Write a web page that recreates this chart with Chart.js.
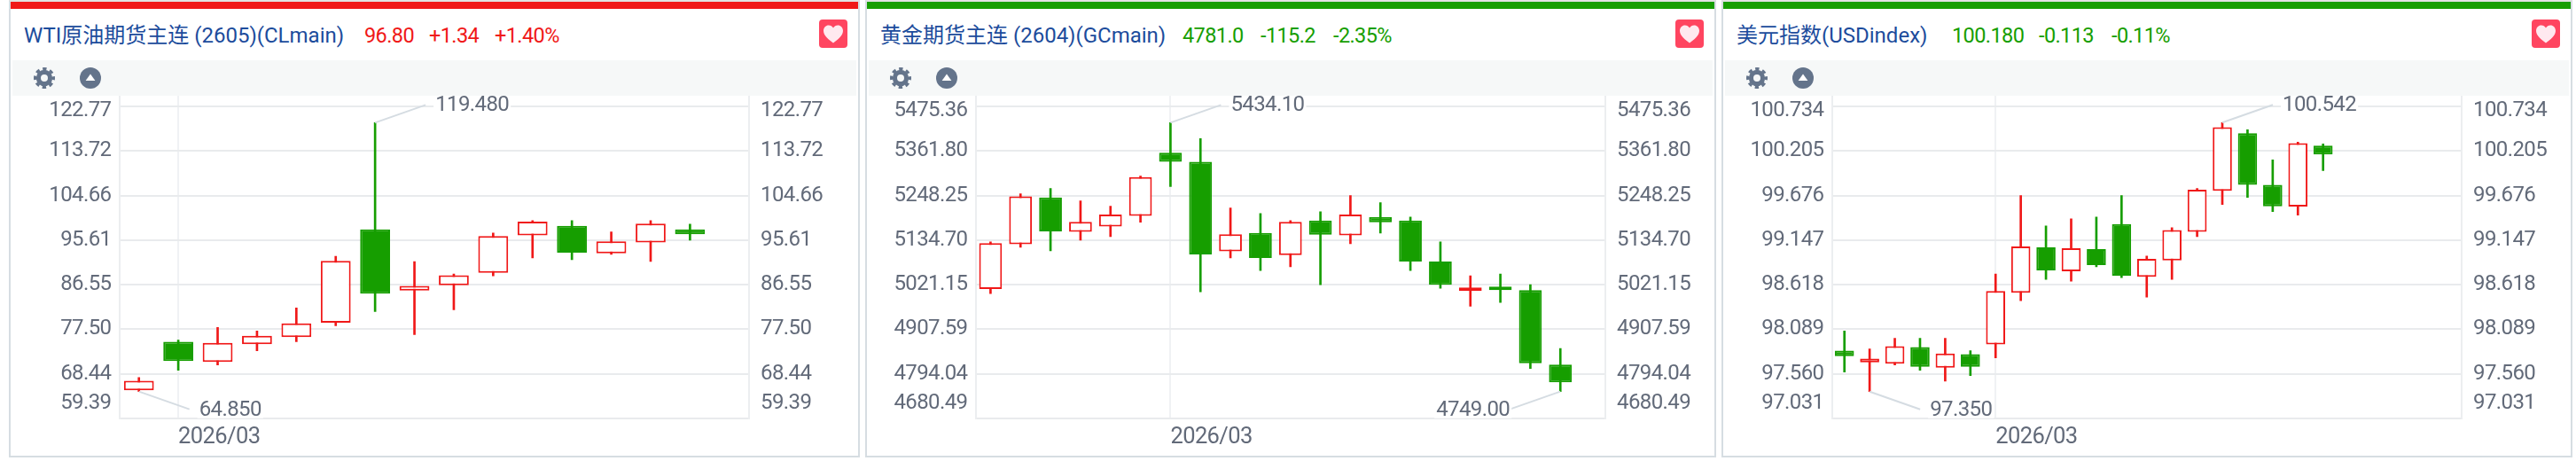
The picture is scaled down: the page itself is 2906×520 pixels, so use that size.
<!DOCTYPE html>
<html>
<head>
<meta charset="utf-8">
<script src="https://cdn.jsdelivr.net/npm/chart.js@4"></script>
<style>
  html, body { margin: 0; background: #fff; }
  body { width: 2906px; height: 520px; position: relative; overflow: hidden; font-family: Roboto, "Noto Sans CJK SC", sans-serif; }
  .panel { position: absolute; top: 0; width: 956px; height: 512px; border: 2px solid #d6dde2; border-top-color: #e2e2e2; background: #fff; }
  .bar { position: absolute; left: 0; right: 0; top: 0; height: 8px; }
  .name, .val { position: absolute; top: 22px; line-height: 32px; white-space: nowrap; }
  .name { font-size: 24px; color: #1c4c9c; }
  .val { font-size: 23.5px; letter-spacing: -0.6px; }
  .heart { position: absolute; left: 912px; top: 20px; width: 32px; height: 32px; }
  .tools { position: absolute; left: 2px; right: 2px; top: 66px; height: 40px; background: #f6f8f8; }
  .tools svg { position: absolute; top: 8px; width: 24px; height: 24px; }
  canvas { position: absolute; left: 0; top: 106px; }
</style>
</head>
<body>
<script>
  const RED = '#f01818';
  const GREEN = '#169e00';
  const TICK_COLOR = '#626a79';
  const LEADER_COLOR = '#d5dce2';

  // WTI crude
  const oilLabels = ['', '2026/03', '', '', '', '', '', '', '', '', '', '', '', '', '', ''];
  const oilOpen  = [65.12, 74.97, 70.86, 74.48, 75.93, 78.83, 97.78, 85.35, 86.43, 88.97, 96.58, 98.50, 92.95, 95.13, 97.78];
  const oilClose = [67.05, 71.04, 74.72, 76.17, 78.71, 91.38, 84.74, 86.31, 88.49, 96.46, 99.35, 93.07, 95.37, 98.98, 96.80];
  const oilHigh  = [67.72, 75.33, 77.86, 77.14, 81.85, 92.35, 119.48, 91.26, 88.73, 97.06, 99.59, 99.59, 97.30, 99.59, 98.86];
  const oilLow   = [64.85, 69.17, 70.25, 73.15, 74.96, 78.22, 81.12, 76.41, 81.48, 88.37, 91.99, 91.63, 92.71, 91.26, 95.61];
  const oilTicks = [59.39, 68.44, 77.50, 86.55, 95.61, 104.66, 113.72, 122.77];

  // Gold
  const goldLabels = ['', '', '', '', '', '', '2026/03', '', '', '', '', '', '', '', '', '', '', '', '', '', ''];
  const goldOpen  = [5010.5, 5124.1, 5243.7, 5155.9, 5169.5, 5196.8, 5357.3, 5334.6, 5106.0, 5152.9, 5096.9, 5184.7, 5146.8, 5193.8, 5184.7, 5080.2, 5005.2, 5016.6, 5007.5, 4817.9];
  const goldClose = [5127.1, 5246.0, 5157.0, 5181.6, 5199.8, 5295.2, 5334.6, 5098.4, 5149.8, 5089.3, 5181.6, 5148.3, 5199.8, 5180.1, 5080.2, 5021.2, 5014.3, 5007.5, 4821.3, 4772.4];
  const goldHigh  = [5130.2, 5252.8, 5266.4, 5234.6, 5221.0, 5298.2, 5434.1, 5393.6, 5216.5, 5202.8, 5184.7, 5207.3, 5248.3, 5230.1, 5193.8, 5130.2, 5043.9, 5048.4, 5021.2, 4858.8];
  const goldLow   = [4998.4, 5116.5, 5107.4, 5134.7, 5143.8, 5180.1, 5271.0, 5003.0, 5089.3, 5057.5, 5066.6, 5021.2, 5125.6, 5152.9, 5057.5, 5012.0, 4966.6, 4975.7, 4807.7, 4749.0];
  const goldTicks = [4680.49, 4794.04, 4907.59, 5021.15, 5134.70, 5248.25, 5361.80, 5475.36];

  // US dollar index
  const usdLabels = ['', '', '', '', '', '', '2026/03', '', '', '', '', '', '', '', '', '', '', '', '', '', '', '', '', '', ''];
  const usdOpen  = [97.835, 97.697, 97.680, 97.877, 97.634, 97.793, 97.909, 98.523, 99.062, 98.777, 99.041, 99.337, 98.713, 98.907, 99.246, 99.732, 100.417, 99.803, 99.545, 100.268];
  const usdClose = [97.771, 97.740, 97.888, 97.644, 97.803, 97.644, 98.544, 99.073, 98.787, 99.052, 98.851, 98.724, 98.925, 99.267, 99.746, 100.487, 99.803, 99.549, 100.297, 100.163];
  const usdHigh  = [98.068, 97.856, 97.983, 97.983, 97.983, 97.835, 98.745, 99.676, 99.316, 99.401, 99.422, 99.676, 98.957, 99.295, 99.761, 100.542, 100.459, 100.099, 100.311, 100.290];
  const usdLow   = [97.581, 97.350, 97.666, 97.602, 97.475, 97.539, 97.750, 98.428, 98.681, 98.660, 98.830, 98.703, 98.470, 98.681, 99.189, 99.570, 99.655, 99.485, 99.443, 99.972];
  const usdTicks = [97.031, 97.560, 98.089, 98.618, 99.147, 99.676, 100.205, 100.734];

  // y value at the top edge of each plot, a little above the last tick
  const oilTop = 124.94;
  const goldTop = 5502.6;
  const usdTop = 100.861;

  const GEAR = '<circle cx="12" cy="12" r="6.6" fill="none" stroke="#64748b" stroke-width="5.2"/><circle cx="12" cy="12" r="10.4" fill="none" stroke="#64748b" stroke-width="3.2" stroke-dasharray="4.4 3.77" stroke-dashoffset="2.2"/>';
  const UP = '<circle cx="12" cy="12" r="12" fill="#64748b"/><path d="M12 7.6l5.4 7.4H6.6z" fill="#fff"/>';
  const HEART = '<svg viewBox="0 0 32 32"><rect width="32" height="32" rx="4" fill="#ff4560"/><path d="M16 26.5C11 22.5 5 18.6 5 12.8 5 9 7.8 6.6 10.8 6.6c2.2 0 4 1 5.2 3 1.2-2 3-3 5.2-3 3 0 5.8 2.4 5.8 6.2 0 5.8-6 9.7-11 13.7z" fill="#ffe9ef"/></svg>';

  // nudges the first and last y labels inside the plot, as the original does
  const edgeLabels = {
    id: 'edgeLabels',
    afterLayout(chart) {
      ['yL', 'yR'].forEach(id => {
        const items = chart.scales[id].getLabelItems();
        items[0].options.translation[1] -= 17;
        items[items.length - 1].options.translation[1] += 5;
      });
    },
    beforeDraw(chart) {
      chart.ctx.letterSpacing = '-0.6px'; // the original face is narrower than Roboto
    },
  };

  // high / low callouts with a leader line
  const callouts = {
    id: 'callouts',
    afterDatasetsDraw(chart, args, opts) {
      const ctx = chart.ctx;
      const x = chart.scales.x, y = chart.scales.yL;
      ctx.save();
      ctx.font = '24px Roboto';
      opts.items.forEach(c => {
        const px = x.getPixelForValue(c.index);
        const py = y.getPixelForValue(c.value);
        const ex = px + c.dx * 57;
        const ey = py + c.dy * 20;
        const w = ctx.measureText(c.text).width;
        const tx = c.dx > 0 ? ex + 11 : ex - w;
        const ty = ey + 1;
        ctx.strokeStyle = LEADER_COLOR;
        ctx.lineWidth = 2;
        ctx.beginPath();
        ctx.moveTo(px, py);
        ctx.lineTo(ex, ey);
        ctx.stroke();
        ctx.fillStyle = '#fff';
        ctx.fillRect(tx - 2, ty - 9, w + 4, 18);
        ctx.fillStyle = TICK_COLOR;
        ctx.textBaseline = 'middle';
        ctx.fillText(c.text, tx, ty);
      });
      ctx.restore();
    },
  };

  function valueAxis(position, ticks, top, decimals, showGrid) {
    return {
      position,
      min: ticks[0],
      max: top,
      afterBuildTicks: s => { s.ticks = ticks.map(value => ({ value })); },
      afterFit: s => {
        s.width = position === 'left' ? 122.5 : 123;
        s.paddingTop = 0;
        s.paddingBottom = 0;
      },
      border: { color: '#eceef0', width: 2 },
      grid: { display: showGrid, color: '#e9ebed', lineWidth: 2, drawTicks: false },
      ticks: {
        autoSkip: false,
        color: TICK_COLOR,
        font: { family: 'Roboto', size: 24 },
        padding: position === 'left' ? 9 : 13,
        callback: v => v.toFixed(decimals),
      },
    };
  }

  function buildPanel(p) {
    const panel = document.createElement('div');
    panel.className = 'panel';
    panel.style.left = p.left + 'px';
    const color = p.up ? RED : GREEN;
    panel.innerHTML =
      `<div class="bar" style="background:${color}"></div>` +
      `<div class="name" style="left:${p.nameX}px">${p.name}</div>` +
      p.quote.map((q, i) => `<div class="val" style="left:${p.quoteX[i]}px;color:${color}">${q}</div>`).join('') +
      `<div class="heart">${HEART}</div>` +
      `<div class="tools"><svg viewBox="0 0 24 24" style="left:24px">${GEAR}</svg><svg viewBox="0 0 24 24" style="left:76px">${UP}</svg></div>` +
      `<canvas width="956" height="406"></canvas>`;
    document.body.appendChild(panel);

    const rising = p.open.map((o, i) => o <= p.close[i]);
    new Chart(panel.querySelector('canvas'), {
      type: 'bar',
      data: {
        labels: p.labels,
        datasets: [
          {
            data: p.open.map((o, i) => [o, p.close[i]]),
            grouped: false,
            categoryPercentage: 0.76,
            barPercentage: 1,
            borderSkipped: false,
            borderWidth: 2,
            borderColor: rising.map(r => r ? RED : GREEN),
            backgroundColor: rising.map(r => r ? '#fff' : GREEN),
            yAxisID: 'yL',
          },
          {
            data: p.low.map((l, i) => [l, p.high[i]]),
            grouped: false,
            barThickness: 2,
            borderWidth: 0,
            backgroundColor: rising.map(r => r ? RED : GREEN),
            yAxisID: 'yL',
          },
        ],
      },
      options: {
        responsive: false,
        animation: false,
        events: [],
        layout: { padding: 0 },
        plugins: {
          legend: { display: false },
          tooltip: { enabled: false },
          callouts: { items: p.callouts },
        },
        scales: {
          x: {
            afterFit: s => { s.height = 42; s.paddingLeft = 0; s.paddingRight = 0; },
            border: { display: false },
            grid: {
              offset: false,
              drawTicks: false,
              lineWidth: 2,
              color: c => (p.labels[c.index] ? '#f0f2f4' : 'transparent'),
            },
            ticks: {
              autoSkip: false,
              maxRotation: 0,
              align: 'start',
              padding: 6,
              color: TICK_COLOR,
              font: { family: 'Roboto', size: 25.5 },
              callback: (v, i) => p.labels[i],
            },
          },
          yL: valueAxis('left', p.ticks, p.top, p.decimals, true),
          yR: valueAxis('right', p.ticks, p.top, p.decimals, false),
        },
      },
      plugins: [edgeLabels, callouts],
    });
  }

  buildPanel({
    left: 10, up: true,
    name: 'WTI原油期货主连 (2605)(CLmain)', nameX: 15,
    quote: ['96.80', '+1.34', '+1.40%'], quoteX: [399, 472, 546],
    labels: oilLabels, open: oilOpen, close: oilClose, high: oilHigh, low: oilLow,
    ticks: oilTicks, top: oilTop, decimals: 2,
    callouts: [
      { index: 6, value: 119.48, text: '119.480', dx: 1, dy: -1 },
      { index: 0, value: 64.85, text: '64.850', dx: 1, dy: 1 },
    ],
  });

  buildPanel({
    left: 976, up: false,
    name: '黄金期货主连 (2604)(GCmain)', nameX: 15,
    quote: ['4781.0', '-115.2', '-2.35%'], quoteX: [356, 444, 526],
    labels: goldLabels, open: goldOpen, close: goldClose, high: goldHigh, low: goldLow,
    ticks: goldTicks, top: goldTop, decimals: 2,
    callouts: [
      { index: 6, value: 5434.1, text: '5434.10', dx: 1, dy: -1 },
      { index: 19, value: 4749, text: '4749.00', dx: -1, dy: 1 },
    ],
  });

  buildPanel({
    left: 1942, up: false,
    name: '美元指数(USDindex)', nameX: 15,
    quote: ['100.180', '-0.113', '-0.11%'], quoteX: [258, 356, 438],
    labels: usdLabels, open: usdOpen, close: usdClose, high: usdHigh, low: usdLow,
    ticks: usdTicks, top: usdTop, decimals: 3,
    callouts: [
      { index: 15, value: 100.542, text: '100.542', dx: 1, dy: -1 },
      { index: 1, value: 97.35, text: '97.350', dx: 1, dy: 1 },
    ],
  });
</script>
</body>
</html>
